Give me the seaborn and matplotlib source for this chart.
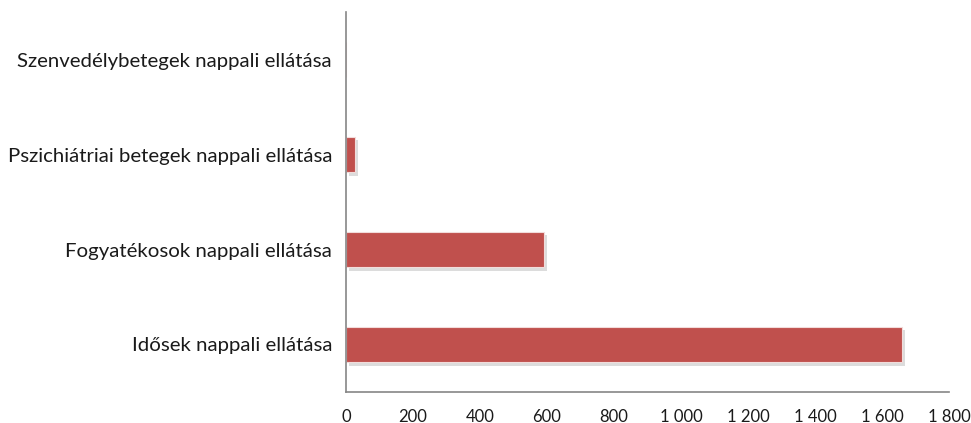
import pandas as pd
import seaborn as sns
import matplotlib.pyplot as plt
import matplotlib.patheffects as pe
from matplotlib.ticker import FuncFormatter

categories = [
    "Szenvedélybetegek nappali ellátása",
    "Pszichiátriai betegek nappali ellátása",
    "Fogyatékosok nappali ellátása",
    "Idősek nappali ellátása",
]
values = [0, 27, 591, 1660]
x_ticks = [0, 200, 400, 600, 800, 1000, 1200, 1400, 1600, 1800]

df = pd.DataFrame({"category": categories, "value": values})

sns.set_style("white")
plt.rcParams["font.family"] = ["Lato", "DejaVu Sans"]

fig = plt.figure(figsize=(9.71, 4.23), dpi=100)
ax = fig.add_axes([0.3563, 0.0733, 0.6210, 0.8983])

sns.barplot(data=df, x="value", y="category", color="#C0504D", saturation=1,
            width=0.37, ax=ax, orient="h")

for bar in ax.patches:
    bar.set_edgecolor("#F2DCDB")
    bar.set_linewidth(0.8)
    bar.set_path_effects([
        pe.SimplePatchShadow(offset=(2, -2.5), shadow_rgbFace="#8C8C8C", alpha=0.3),
        pe.Normal(),
    ])

ax.set_xlim(0, 1800)
ax.set_xticks(x_ticks)
ax.xaxis.set_major_formatter(FuncFormatter(lambda v, p: f"{int(v):,}".replace(",", " ")))
ax.set_xlabel("")
ax.set_ylabel("")

for side in ["top", "right"]:
    ax.spines[side].set_visible(False)
for side in ["left", "bottom"]:
    ax.spines[side].set_color("#868686")
    ax.spines[side].set_linewidth(1.2)

ax.tick_params(axis="y", length=0, pad=10, labelsize=14.7, labelcolor="#1A1A1A")
ax.tick_params(axis="x", length=0, pad=12, labelsize=12, labelcolor="#1A1A1A")

fig.savefig("out.png", dpi=100)
